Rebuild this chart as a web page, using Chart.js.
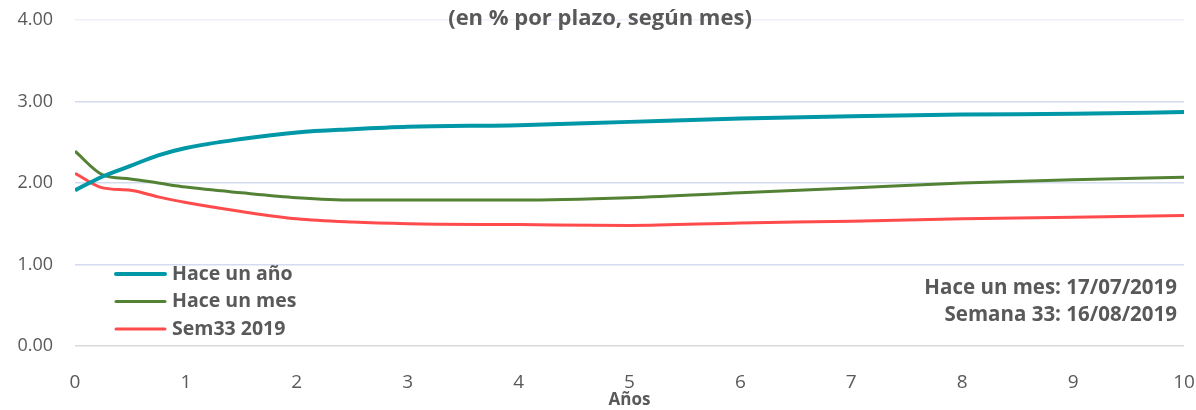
<!DOCTYPE html>
<html>
<head>
<meta charset="utf-8">
<script src="https://cdn.jsdelivr.net/npm/chart.js@4/dist/chart.umd.min.js"></script>
<style>
	body { margin: 0; background: #fff; }
	#wrap { width: 1196px; height: 410px; }
</style>
</head>
<body>
<div id="wrap"><canvas id="curva-chart" width="1196" height="410"></canvas></div>
<script>
// plazos en años
var plazos = [0, 0.25, 0.5, 0.75, 1, 1.5, 2, 2.5, 3, 4, 5, 6, 7, 8, 9, 10];

// tasas (%)
var haceUnAno = [1.91, 2.08, 2.21, 2.34, 2.43, 2.54, 2.62, 2.66, 2.69, 2.71, 2.75, 2.79, 2.82, 2.84, 2.85, 2.87];
var haceUnMes = [2.39, 2.10, 2.05, 2.00, 1.95, 1.88, 1.82, 1.79, 1.79, 1.79, 1.82, 1.88, 1.94, 2.00, 2.04, 2.07];
var sem33 = [2.12, 1.94, 1.91, 1.83, 1.76, 1.65, 1.56, 1.52, 1.50, 1.49, 1.48, 1.51, 1.53, 1.56, 1.58, 1.60];

var seriesNames = ['Hace un año', 'Hace un mes', 'Sem33 2019'];
var seriesColors = ['#0097a7', '#548235', '#ff4b4b'];
var seriesWidths = [4, 3, 3];

var titulo = '(en % por plazo, según mes)';
var notas = ['Hace un mes: 17/07/2019', 'Semana 33: 16/08/2019'];
var yTicks = [0, 1, 2, 3, 4];

var textColor = '#595959',
		fontFam = '"Open Sans", sans-serif';

function toPoints(values) {
	return values.map((v, i) => ({ x: plazos[i], y: v }));
}

// titulo, leyenda y notas dibujados dentro del area
var extras = {
	id: 'extras',
	afterDatasetsDraw(chart) {
		var ctx = chart.ctx;
		ctx.save();
		ctx.fillStyle = textColor;
		ctx.textBaseline = 'middle';

		ctx.font = 'bold 22px ' + fontFam;
		ctx.textAlign = 'center';
		ctx.fillText(titulo, 600, 19);

		// leyenda
		ctx.font = 'bold 19.5px ' + fontFam;
		ctx.textAlign = 'left';
		chart.data.datasets.forEach((ds, i) => {
			var y = 274 + i * 27.5;
			ctx.strokeStyle = ds.borderColor;
			ctx.lineWidth = ds.borderWidth;
			ctx.lineCap = 'round';
			ctx.beginPath();
			ctx.moveTo(116, y);
			ctx.lineTo(165, y);
			ctx.stroke();
			ctx.fillText(ds.label, 172, y);
		});

		// notas
		ctx.font = 'bold 20.5px ' + fontFam;
		ctx.textAlign = 'right';
		notas.forEach((t, i) => {
			ctx.fillText(t, 1177, 288 + i * 27);
		});
		ctx.restore();
	}
};

var ctx = document.getElementById('curva-chart').getContext('2d'),
		curvaChart = new Chart(ctx, {
			type: 'line',
			data: {
				datasets: [haceUnAno, haceUnMes, sem33].map((vals, i) => ({
					label: seriesNames[i],
					data: toPoints(vals),
					borderColor: seriesColors[i],
					backgroundColor: seriesColors[i],
					borderWidth: seriesWidths[i],
					pointRadius: 0,
					cubicInterpolationMode: 'monotone',
					fill: false
				}))
			},
			options: {
				responsive: false,
				animation: false,
				layout: { padding: { top: 20, right: 12, left: 0, bottom: 0 } },
				plugins: {
					legend: { display: false },
					tooltip: { enabled: false }
				},
				scales: {
					x: {
						type: 'linear',
						min: 0,
						max: 10,
						grid: { display: false },
						border: { display: false },
						ticks: {
							stepSize: 1,
							color: textColor,
							padding: 17,
							maxRotation: 0,
							font: { family: fontFam, size: 19 }
						},
						title: {
							display: true,
							text: 'Años',
							color: textColor,
							padding: { top: 0, bottom: 0 },
							font: { family: fontFam, size: 17, weight: 'bold' }
						},
						afterFit(scale) {
							scale.height = 64;
							scale.paddingLeft = 0;
							scale.paddingRight = 0;
						}
					},
					y: {
						min: 0,
						max: 4,
						border: { display: false },
						afterBuildTicks(scale) { scale.ticks = yTicks.map(v => ({ value: v })); },
						grid: {
							drawTicks: false,
							lineWidth: 1.5,
							color: c => c.tick.value === 0 ? '#d9d9d9' : (c.tick.value === 4 ? '#eef1f8' : '#d3dcef')
						},
						ticks: {
							color: textColor,
							padding: 22,
							font: { family: fontFam, size: 18 },
							callback: v => v.toFixed(2)
						},
						afterFit(scale) {
							scale.width = 75;
							scale.paddingTop = 0;
							scale.paddingBottom = 0;
						}
					}
				}
			},
			plugins: [extras]
		});
</script>
</body>
</html>
